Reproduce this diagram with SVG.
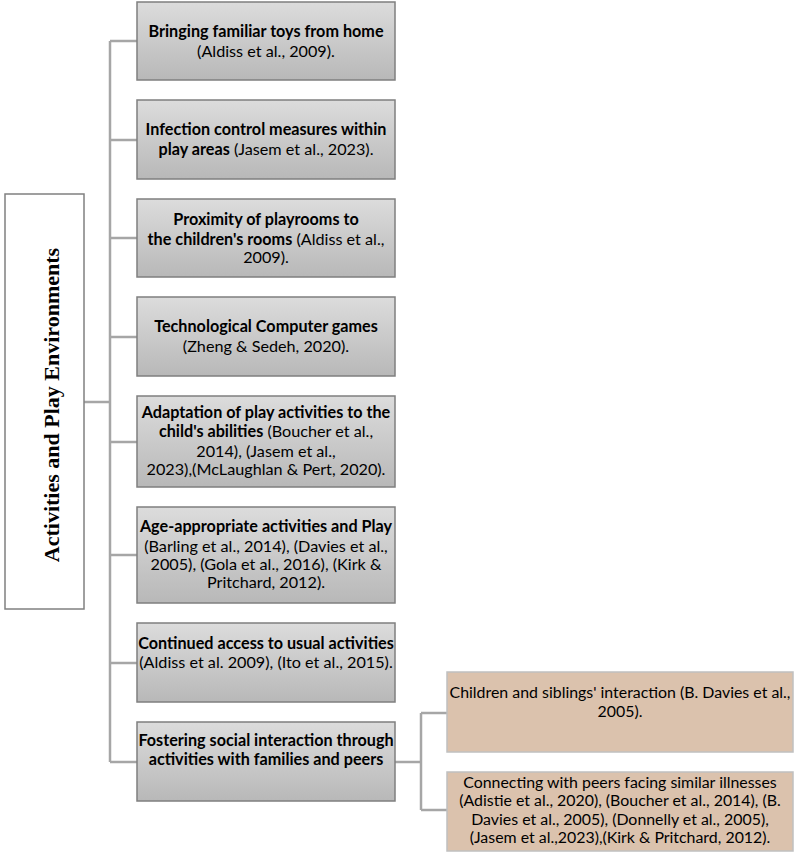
<svg xmlns="http://www.w3.org/2000/svg" width="800" height="854" viewBox="0 0 800 854">
<defs>
<linearGradient id="gg" x1="0" y1="0" x2="0" y2="1">
<stop offset="0" stop-color="#dcdcdc"/>
<stop offset="1" stop-color="#b8b8b8"/>
</linearGradient>
<style>
.g{fill:url(#gg);stroke:#7f7f7f;stroke-width:1.5}
.p{fill:#dbc2ad;stroke:#c0c0c0;stroke-width:1.5}
.root{fill:#ffffff;stroke:#808080;stroke-width:1.5}
.c{fill:none;stroke:#a6a6a6;stroke-width:2.5}
text{font-family:Lato,"Liberation Sans",sans-serif;font-size:16.2px;fill:#000;text-anchor:middle}
.pt{font-size:15.9px}
.b{font-weight:bold}
.t{font-family:"Liberation Serif","Times New Roman",serif;font-size:22px;font-weight:bold}
</style>
</defs>
<rect width="800" height="854" fill="#ffffff"/>
<g id="connectors">
<path class="c" d="M84 402H110M110 41V762M110 41H137M110 140H137M110 238H137M110 337H137M110 442H137M110 555H137M110 663H137M110 762H137"/>
<path class="c" d="M395 762H421M421 713V810M421 713H447M421 810H447"/>
</g>
<g id="root">
<rect class="root" x="5" y="194" width="79" height="415"/>
<text class="t" transform="translate(59,405) rotate(-90)">Activities and Play Environments</text>
</g>
<g id="n1">
<rect class="g" x="137" y="2" width="258" height="78"/>
<text x="266" y="37"><tspan class="b">Bringing familiar toys from home</tspan></text>
<text x="266" y="57">(Aldiss et al., 2009).</text>
</g>
<g id="n2">
<rect class="g" x="137" y="100" width="258" height="79"/>
<text x="266" y="135"><tspan class="b">Infection control measures within</tspan></text>
<text x="266" y="155"><tspan class="b">play areas</tspan> (Jasem et al., 2023).</text>
</g>
<g id="n3">
<rect class="g" x="137" y="199" width="258" height="78"/>
<text x="266" y="225"><tspan class="b">Proximity of playrooms to</tspan></text>
<text x="266" y="245"><tspan class="b">the children's rooms</tspan> (Aldiss et al.,</text>
<text x="266" y="263">2009).</text>
</g>
<g id="n4">
<rect class="g" x="137" y="297" width="258" height="79"/>
<text x="266" y="332"><tspan class="b">Technological Computer games</tspan></text>
<text x="266" y="352">(Zheng &amp; Sedeh, 2020).</text>
</g>
<g id="n5">
<rect class="g" x="137" y="396" width="258" height="91"/>
<text x="266" y="418"><tspan class="b">Adaptation of play activities to the</tspan></text>
<text x="266" y="437"><tspan class="b">child's abilities</tspan> (Boucher et al.,</text>
<text x="266" y="457">2014), (Jasem et al.,</text>
<text x="266" y="475">2023),(McLaughlan &amp; Pert, 2020).</text>
</g>
<g id="n6">
<rect class="g" x="137" y="507" width="258" height="96"/>
<text x="266" y="532"><tspan class="b">Age-appropriate activities and Play</tspan></text>
<text x="266" y="552">(Barling et al., 2014), (Davies et al.,</text>
<text x="266" y="570">2005), (Gola et al., 2016), (Kirk &amp;</text>
<text x="266" y="588">Pritchard, 2012).</text>
</g>
<g id="n7">
<rect class="g" x="137" y="623" width="258" height="79"/>
<text x="266" y="649"><tspan class="b">Continued access to usual activities</tspan></text>
<text x="266" y="668">(Aldiss et al. 2009), (Ito et al., 2015).</text>
</g>
<g id="n8">
<rect class="g" x="137" y="722" width="258" height="79"/>
<text x="266" y="746"><tspan class="b">Fostering social interaction through</tspan></text>
<text x="266" y="765"><tspan class="b">activities with families and peers</tspan></text>
</g>
<g id="n9">
<rect class="p" x="447" y="672" width="346" height="80"/>
<text class="pt" x="620" y="698">Children and siblings' interaction (B. Davies et al.,</text>
<text class="pt" x="620" y="717">2005).</text>
</g>
<g id="n10">
<rect class="p" x="447" y="772" width="346" height="79"/>
<text class="pt" x="620" y="788">Connecting with peers facing similar illnesses</text>
<text class="pt" x="620" y="806">(Adistie et al., 2020), (Boucher et al., 2014), (B.</text>
<text class="pt" x="620" y="825">Davies et al., 2005), (Donnelly et al., 2005),</text>
<text class="pt" x="620" y="843">(Jasem et al.,2023),(Kirk &amp; Pritchard, 2012).</text>
</g>
</svg>
